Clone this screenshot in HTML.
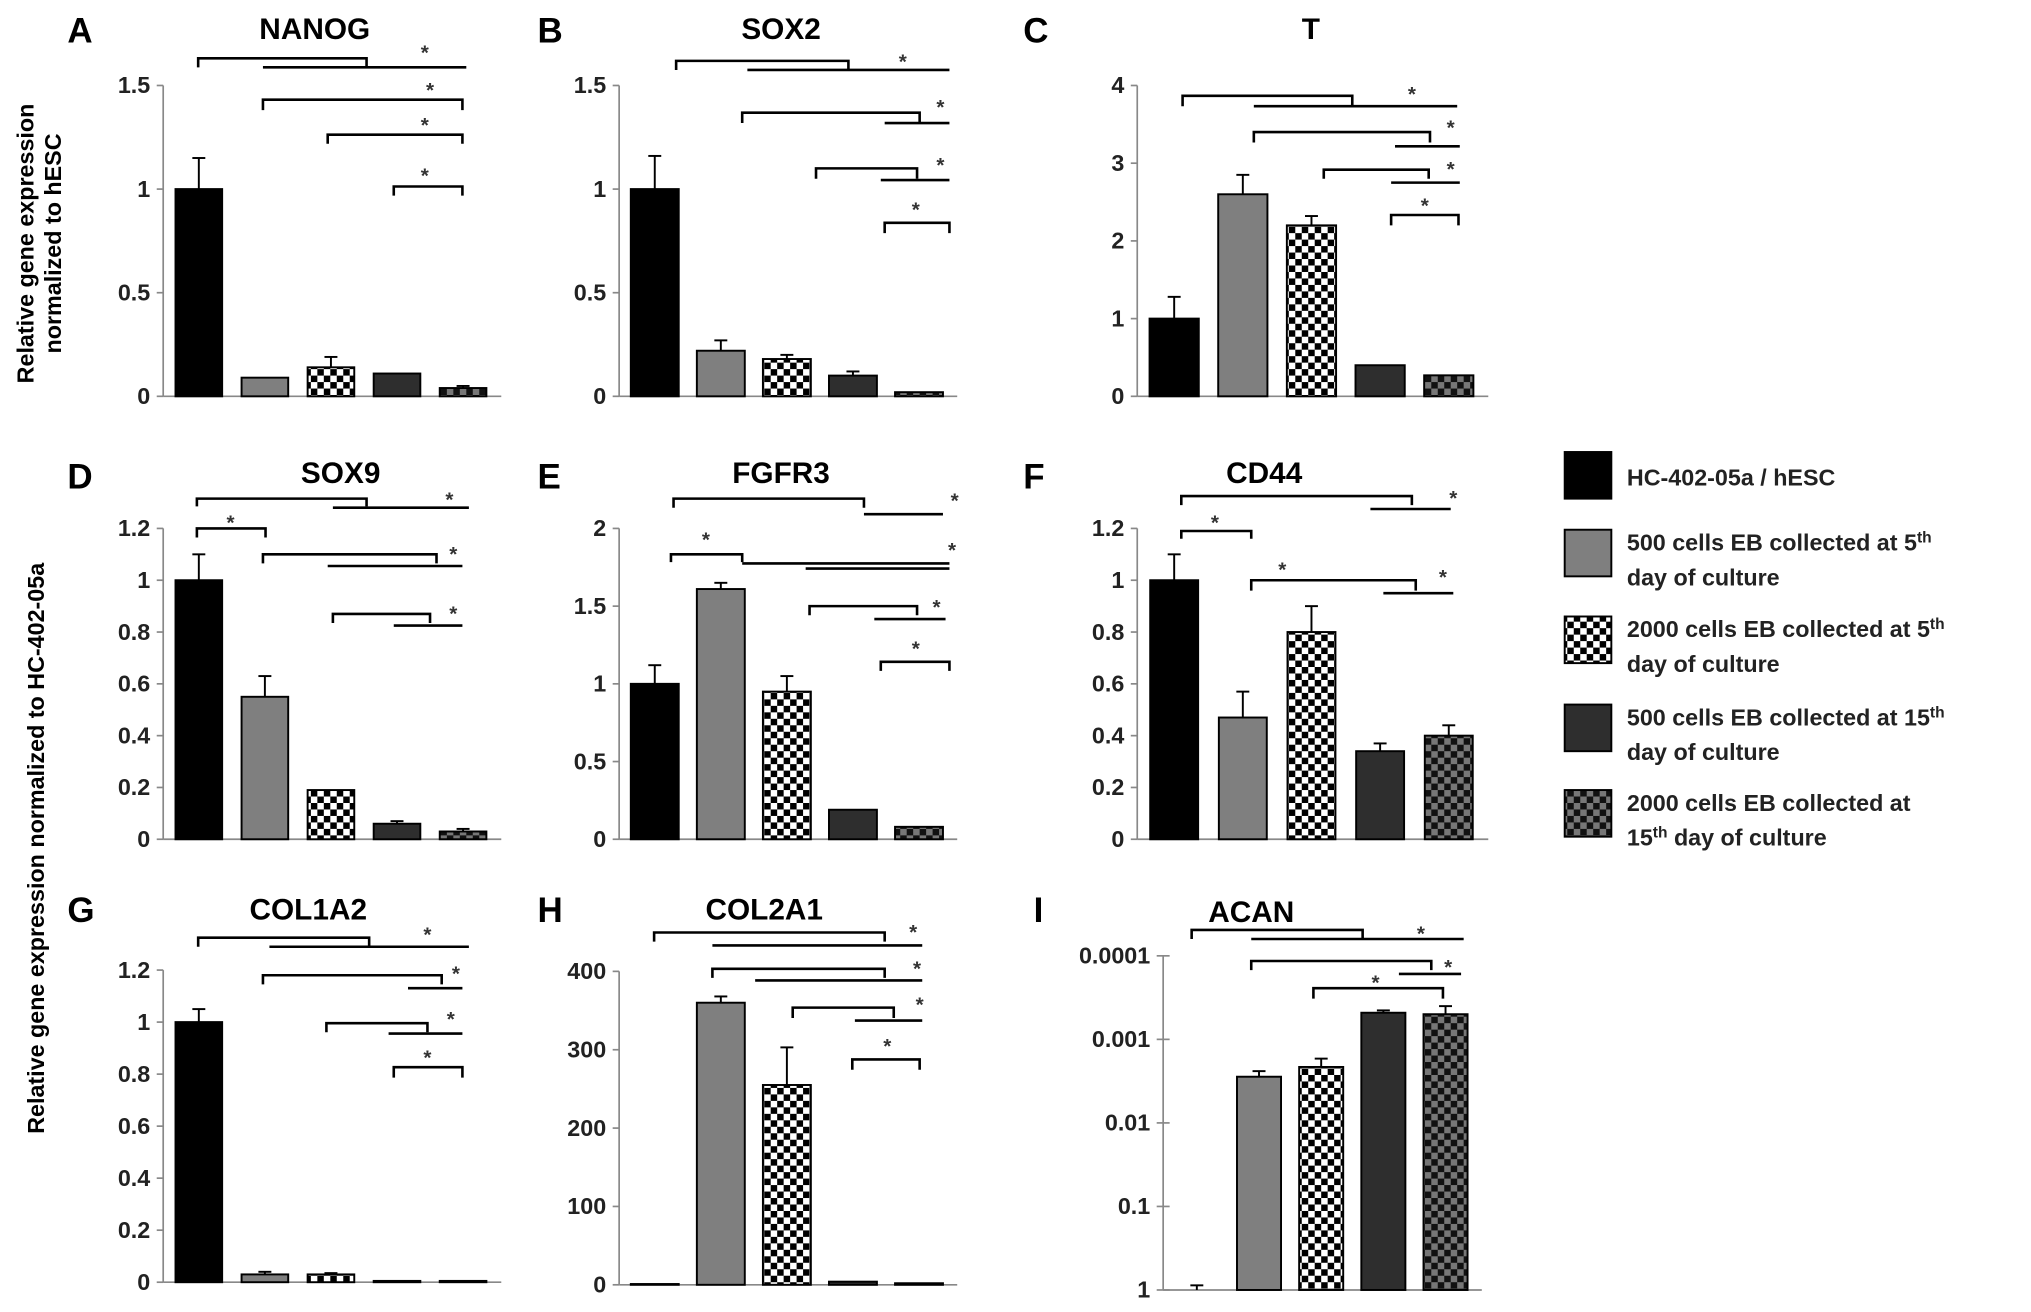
<!DOCTYPE html>
<html><head><meta charset="utf-8"><style>
html,body{margin:0;padding:0;background:#fff;}
svg{display:block;font-family:"Liberation Sans",Arial,sans-serif;}
</style></head><body>
<svg id="fig" width="2031" height="1312" viewBox="0 0 1568 1013" preserveAspectRatio="none" xmlns="http://www.w3.org/2000/svg">
<defs>
<pattern id="chkW" width="10" height="10" patternUnits="userSpaceOnUse"><rect width="10" height="10" fill="#fff"/><rect width="5" height="5" fill="#000"/><rect x="5" y="5" width="5" height="5" fill="#000"/></pattern>
<pattern id="chkD" width="10" height="10" patternUnits="userSpaceOnUse"><rect width="10" height="10" fill="#777"/><rect width="5" height="5" fill="#111"/><rect x="5" y="5" width="5" height="5" fill="#111"/></pattern>
</defs>
<text transform="translate(26,188) rotate(-90)" text-anchor="middle" font-size="18" font-weight="bold">Relative gene expression</text>
<text transform="translate(47,188) rotate(-90)" text-anchor="middle" font-size="18" font-weight="bold">normalized to hESC</text>
<text transform="translate(34,655) rotate(-90)" text-anchor="middle" font-size="18" font-weight="bold">Relative gene expression normalized to HC-402-05a</text>
<g id="legend"></g>
</svg>
<script>
// ---- data ----
const panelTitles = ["NANOG","SOX2","T","SOX9","FGFR3","CD44","COL1A2","COL2A1","ACAN"];
const panelLetters = ["A","B","C","D","E","F","G","H","I"];
const nanogVals = [1.0,0.09,0.14,0.11,0.04];
const nanogErr  = [0.15,0,0.05,0,0.01];
const sox2Vals = [1.0,0.22,0.18,0.10,0.02];
const sox2Err  = [0.16,0.05,0.02,0.02,0];
const tVals = [1.0,2.6,2.2,0.4,0.27];
const tErr  = [0.28,0.25,0.12,0,0];
const sox9Vals = [1.0,0.55,0.19,0.06,0.03];
const sox9Err  = [0.10,0.08,0,0.01,0.01];
const fgfr3Vals = [1.0,1.61,0.95,0.19,0.08];
const fgfr3Err  = [0.12,0.04,0.10,0,0];
const cd44Vals = [1.0,0.47,0.80,0.34,0.40];
const cd44Err  = [0.10,0.10,0.10,0.03,0.04];
const col1a2Vals = [1.0,0.03,0.03,0.005,0.005];
const col1a2Err  = [0.05,0.01,0.005,0,0];
const col2a1Vals = [1,360,255,4,2];
const col2a1Err  = [0,8,48,0,0];
const acanVals = [1,0.0028,0.00214,0.00048,0.0005];
const acanErrTop = [0.88,0.0024,0.0017,0.00045,0.0004];
const ticksA = ["0","0.5","1","1.5"];
const ticksC = ["0","1","2","3","4"];
const ticks12 = ["0","0.2","0.4","0.6","0.8","1","1.2"];
const ticksE = ["0","0.5","1","1.5","2"];
const ticksH = ["0","100","200","300","400"];
const ticksI = ["1","0.1","0.01","0.001","0.0001"];
const legendLabels = [["HC-402-05a / hESC"],["500 cells EB collected at 5th","day of culture"],["2000 cells EB collected at 5th","day of culture"],["500 cells EB collected at 15th","day of culture"],["2000 cells EB collected at","15th day of culture"]];

const fills = ["#000","#7f7f7f","url(#chkW)","#2e2e2e","url(#chkD)"];
const NS="http://www.w3.org/2000/svg";
const svg=document.getElementById('fig');
function el(tag,attrs,parent){const e=document.createElementNS(NS,tag);for(const k in attrs)e.setAttribute(k,attrs[k]);(parent||svg).appendChild(e);return e;}

const panels=[
 {vals:nanogVals,err:nanogErr,ticks:ticksA,max:1.5,ax:126,top:66,zero:306,cw:51,bw:36,lx:52,ly:33,tx:243,ty:30},
 {vals:sox2Vals,err:sox2Err,ticks:ticksA,max:1.5,ax:478,top:66,zero:306,cw:51,bw:37,lx:415,ly:33,tx:603,ty:30},
 {vals:tVals,err:tErr,ticks:ticksC,max:4,ax:878,top:66,zero:306,cw:53,bw:38,lx:790,ly:33,tx:1012,ty:30},
 {vals:sox9Vals,err:sox9Err,ticks:ticks12,max:1.2,ax:126,top:408,zero:648,cw:51,bw:36,lx:52,ly:377,tx:263,ty:373},
 {vals:fgfr3Vals,err:fgfr3Err,ticks:ticksE,max:2,ax:478,top:408,zero:648,cw:51,bw:37,lx:415,ly:377,tx:603,ty:373},
 {vals:cd44Vals,err:cd44Err,ticks:ticks12,max:1.2,ax:878,top:408,zero:648,cw:53,bw:37,lx:790,ly:377,tx:976,ty:373},
 {vals:col1a2Vals,err:col1a2Err,ticks:ticks12,max:1.2,ax:126,top:749,zero:990,cw:51,bw:36,lx:52,ly:712,tx:238,ty:710},
 {vals:col2a1Vals,err:col2a1Err,ticks:ticksH,max:400,ax:478,top:750,zero:992,cw:51,bw:37,lx:415,ly:712,tx:590,ty:710},
 {vals:acanVals,err:acanErrTop,ticks:ticksI,log:true,ax:898,top:738,zero:996,cw:48,bw:34,lx:798,ly:712,tx:966,ty:712}
];
const brackets=[
 [[153,283,45,52],[203,360,52,0],[203,357,77,85],[253,357,104,111],[304,357,144,151]],
 [[522,655,47,54],[577,733,54,0],[573,710,87,95],[683,733,95,0],[630,708,130,138],[680,733,139,0],[683,733,172,180]],
 [[913,1044,74,82],[968,1125,82,0],[968,1104,102,110],[1077,1127,113,0],[1022,1103,131,138],[1074,1127,141,0],[1074,1126,166,174]],
 [[152,283,385,391],[257,362,392,0],[152,205,408,415],[203,337,428,435],[253,357,437,0],[257,332,474,481],[304,357,483,0]],
 [[520,667,385,392],[667,728,397,0],[518,573,428,434],[573,733,435,0],[622,733,439,0],[625,708,468,475],[675,730,478,0],[680,733,511,518]],
 [[912,1090,383,390],[1058,1120,393,0],[912,966,410,416],[966,1093,448,456],[1068,1122,458,0]],
 [[153,285,724,731],[208,362,731,0],[203,341,753,760],[315,357,763,0],[252,330,790,797],[300,357,798,0],[304,357,824,832]],
 [[505,683,720,727],[550,712,730,0],[550,683,748,755],[583,712,757,0],[612,690,778,786],[660,712,788,0],[658,710,818,826]],
 [[920,1052,718,725],[966,1130,725,0],[966,1105,742,749],[1080,1128,752,0],[1014,1114,763,771]]
];
const stars=[
 [[328,38],[332,67],[328,94],[328,133]],
 [[697,45],[726,80],[726,125],[707,159]],
 [[1090,70],[1120,96],[1120,128],[1100,156]],
 [[347,383],[178,401],[350,425],[350,471]],
 [[737,384],[545,414],[735,422],[723,466],[707,498]],
 [[1122,382],[938,401],[990,437],[1114,443]],
 [[330,719],[352,749],[348,784],[330,814]],
 [[705,717],[708,745],[710,773],[685,805]],
 [[1097,718],[1118,744],[1062,756]]
];

panels.forEach((p,pi)=>{
  const g=el('g',{});
  
  
  const H=p.zero-p.top;
  const yScale=v=>p.log? p.zero - (Math.log10(1/v))/4*H : p.zero - v/p.max*H;
  const axEnd=p.ax+p.cw*5+6;
  const yA=el('line',{x1:p.ax,y1:p.top,x2:p.ax,y2:p.zero,stroke:'#888','stroke-width':1.3},g);
  
  
  const xA=el('line',{x1:p.ax,y1:p.zero,x2:axEnd,y2:p.zero,stroke:'#888','stroke-width':1.3},g);
  
  
  const n=p.ticks.length;
  p.ticks.forEach((t,i)=>{
    const y=p.top+(n-1-i)*H/(n-1);
    el('line',{x1:p.ax-5,y1:y,x2:p.log?p.ax+5:p.ax,y2:y,stroke:'#888','stroke-width':1.3},g);
    const tt=el('text',{x:p.ax-10,y:y+6,'text-anchor':'end','font-size':18,'font-weight':'bold',fill:'#222'},g);
    tt.textContent=t;
    
    
  });
  p.vals.forEach((v,i)=>{
    const cx=p.ax+p.cw*(i+0.5)+2;
    const yt=yScale(v);
    const ye=p.log? yScale(p.err[i]) : yScale(v+p.err[i]);
    if(p.log? p.err[i]<v : p.err[i]>0){
      el('line',{x1:cx,y1:yt,x2:cx,y2:ye,stroke:'#000','stroke-width':1.5},g);
      el('line',{x1:cx-5,y1:ye,x2:cx+5,y2:ye,stroke:'#000','stroke-width':1.5},g);
    }
    if(p.zero-yt>0.3){
      const b=el('rect',{x:cx-p.bw/2,y:yt,width:p.bw,height:p.zero-yt,fill:fills[i],stroke:'#000','stroke-width':1.5},g);
      
      
    }
  });
  const L=el('text',{x:p.lx,y:p.ly,'font-size':27,'font-weight':'bold'},g);
  L.textContent=panelLetters[pi];
  
  
  const T=el('text',{x:p.tx,y:p.ty,'text-anchor':'middle','font-size':23,'font-weight':'bold'},g);
  T.textContent=panelTitles[pi];
  
  
  brackets[pi].forEach(b=>{
    let d;
    if(b[3]) d=`M${b[0]},${b[3]}V${b[2]}H${b[1]}V${b[3]}`; else d=`M${b[0]},${b[2]}H${b[1]}`;
    const pth=el('path',{d:d,fill:'none',stroke:'#000','stroke-width':2},g);
    
    
  });
  stars[pi].forEach(s=>{
    const st=el('text',{x:s[0],y:s[1]+8,'text-anchor':'middle','font-size':16,'font-weight':'bold',fill:'#333'},g);
    st.textContent='*';
    
    
  });
});

const lg=document.getElementById('legend');
const boxY=[349,409,476,544,610];
legendLabels.forEach((lines,i)=>{
  const r=el('rect',{x:1208,y:boxY[i],width:36,height:36,fill:fills[i],stroke:'#000','stroke-width':1.5},lg);
  
  
  const t=el('text',{x:1256,y:lines.length===1?boxY[i]+26:boxY[i]+16,'font-size':18,'font-weight':'bold',fill:'#222'},lg);
  
  
  lines.forEach((ln,j)=>{
    const ts=el('tspan',{x:1256,dy:j?27:0},t);
    const m=ln.match(/^(.*?)(\d+)(th)(.*)$/);
    if(m){
      ts.textContent=m[1]+m[2];
      const sup=el('tspan',{'baseline-shift':'super','font-size':12},t);sup.textContent='th';
      if(m[4]){const r2=el('tspan',{'baseline-shift':'baseline'},t);r2.textContent=m[4];}
    } else ts.textContent=ln;
  });
});
</script>
</body></html>
